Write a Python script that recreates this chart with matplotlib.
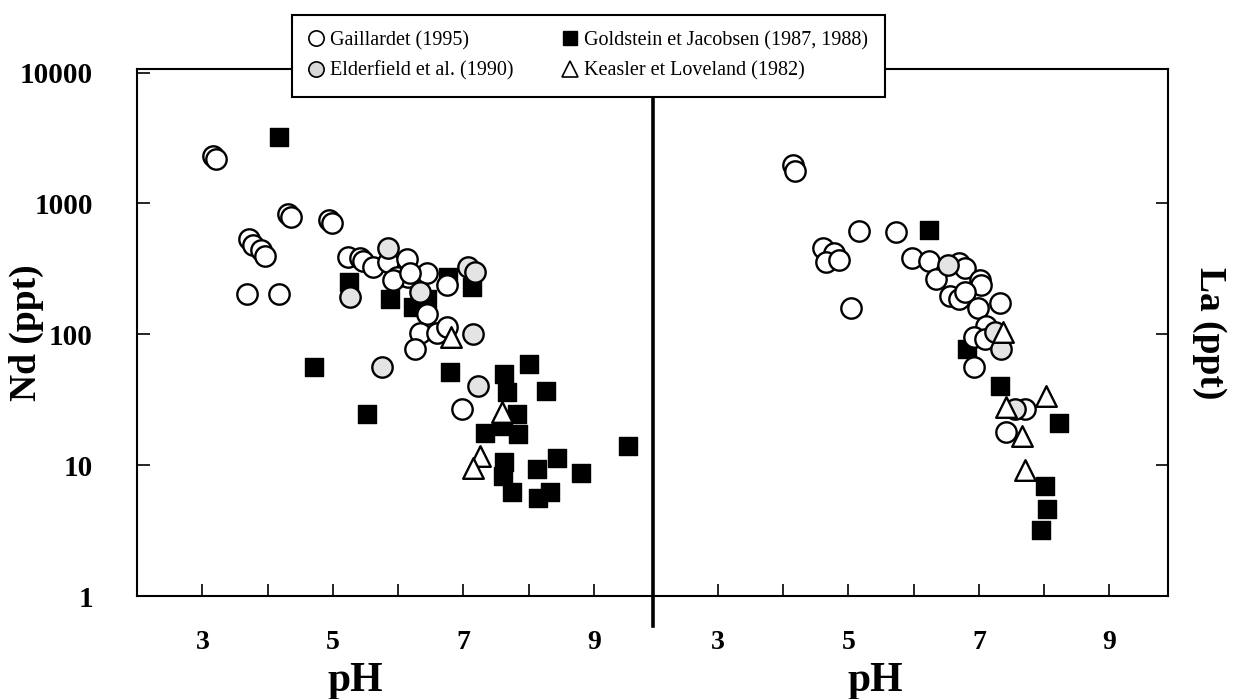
import matplotlib
matplotlib.use("Agg")
import matplotlib.pyplot as plt
from matplotlib.lines import Line2D

plt.rcParams["font.family"] = "serif"
plt.rcParams["font.serif"] = ["Liberation Serif", "DejaVu Serif"]

# ---- Nd panel (left) ----
nd_gail_ph = [3.16, 3.21, 4.31, 4.36, 4.94, 4.99, 3.72, 3.78, 3.90, 3.96, 3.68, 4.17,
              5.23, 5.41, 5.46, 5.61, 5.84, 6.13, 5.98, 6.15, 6.44, 6.75, 6.44, 6.33,
              6.26, 6.59, 6.75, 6.98, 5.92, 6.18]
nd_gail = [2300, 2180, 830, 790, 750, 710, 537, 483, 443, 400, 205, 205,
           392, 385, 363, 329, 359, 378, 276, 276, 296, 240, 142, 103,
           77, 103, 113, 27, 262, 296]
nd_elder_ph = [5.84, 6.33, 7.07, 7.18, 7.15, 5.75, 7.22, 5.26]
nd_elder = [460, 212, 329, 300, 100, 56, 40, 192]
nd_gold_ph = [4.17, 5.25, 5.87, 6.23, 6.44, 6.76, 7.13, 4.71, 5.52, 6.79, 7.62, 8.00,
              7.67, 8.26, 7.82, 7.83, 7.60, 7.33, 9.53, 7.62, 7.60, 8.13, 8.43, 8.81,
              7.74, 8.32, 8.14]
nd_gold = [3200, 253, 185, 163, 185, 276, 232, 56, 24.6, 52, 50, 59,
           36, 37, 24.6, 17.4, 20, 17.7, 14, 10.6, 8.3, 9.4, 11.4, 8.8,
           6.3, 6.3, 5.6]
nd_keas_ph = [6.81, 7.59, 7.25, 7.15]
nd_keas = [95, 25.5, 11.8, 9.6]

# ---- La panel (right) ----
la_gail_ph = [4.15, 4.18, 5.16, 5.73, 4.61, 4.78, 4.66, 4.85, 5.04, 5.97, 6.23, 6.69,
              6.79, 6.34, 7.02, 7.04, 6.56, 6.69, 6.79, 6.99, 7.33, 7.11, 6.92, 7.10,
              6.92, 7.42, 7.71]
la_gail = [1960, 1770, 620, 610, 460, 420, 360, 370, 160, 385, 365, 350,
           322, 265, 262, 240, 195, 185, 212, 160, 175, 115, 95, 92,
           56, 18, 27]
la_elder_ph = [6.53, 7.25, 7.34, 7.56]
la_elder = [340, 104, 77, 27]
la_gold_ph = [6.23, 6.82, 7.33, 8.23, 8.02, 8.05, 7.95]
la_gold = [630, 77, 40, 21, 7.0, 4.6, 3.2]
la_keas_ph = [7.37, 8.03, 7.42, 7.66, 7.71]
la_keas = [105, 34, 28, 16.8, 9.2]

labels = ["Gaillardet (1995)", "Elderfield et al. (1990)",
          "Goldstein et Jacobsen (1987, 1988)", "Keasler et Loveland (1982)"]

fig = plt.figure(figsize=(12.36, 6.99), dpi=100)
ax1 = fig.add_axes([0.111, 0.147, 0.417, 0.754])
ax2 = fig.add_axes([0.528, 0.147, 0.417, 0.754])

def draw(ax, gph, g, eph, e, sph, s, tph, t):
    ax.scatter(sph, s, marker="s", s=150, c="black", edgecolors="black", zorder=2)
    ax.scatter(gph, g, marker="o", s=215, facecolors="white", edgecolors="black",
               linewidths=1.7, zorder=3)
    ax.scatter(eph, e, marker="o", s=215, facecolors="#e4e4e4", edgecolors="black",
               linewidths=1.7, zorder=3)
    ax.scatter(tph, t, marker="^", s=220, facecolors="white", edgecolors="black",
               linewidths=1.7, zorder=4)
    ax.set_yscale("log")
    ax.set_xlim(2.0, 9.9)
    ax.set_ylim(1, 10600)
    ax.set_xticks(range(3, 10))
    ax.set_xticklabels(["3", "", "5", "", "7", "", "9"])
    ax.minorticks_off()
    ax.tick_params(axis="x", direction="in", length=9, width=1.2, pad=24,
                   labelsize=20)
    for lab in ax.get_xticklabels():
        lab.set_fontweight("bold")
    for sp in ax.spines.values():
        sp.set_linewidth(1.5)

draw(ax1, nd_gail_ph, nd_gail, nd_elder_ph, nd_elder, nd_gold_ph, nd_gold, nd_keas_ph, nd_keas)
draw(ax2, la_gail_ph, la_gail, la_elder_ph, la_elder, la_gold_ph, la_gold, la_keas_ph, la_keas)

ax1.set_yticks([1, 10, 100, 1000, 10000])
ax1.set_yticklabels(["1", "10", "100", "1000", "10000"])
ax1.tick_params(axis="y", direction="in", length=9, width=1.2, pad=32, labelsize=21)
for lab in ax1.get_yticklabels():
    lab.set_fontweight("bold")
ax1.spines["right"].set_visible(False)

ax2.yaxis.tick_right()
ax2.set_yticks([10, 100, 1000])
ax2.set_yticklabels([])
ax2.tick_params(axis="y", direction="in", length=9, width=1.2)
ax2.spines["left"].set_visible(False)

# divider between the two panels
fig.add_artist(Line2D([0.528, 0.528], [0.105, 0.901], color="black", lw=2.6,
                      transform=fig.transFigure, zorder=2))

ax1.text(-0.215, 0.5, "Nd (ppt)", transform=ax1.transAxes, rotation=90,
         ha="center", va="center", fontsize=27, fontweight="bold")
ax2.text(1.08, 0.5, "La (ppt)", transform=ax2.transAxes, rotation=-90,
         ha="center", va="center", fontsize=27, fontweight="bold")
ax1.text(0.423, -0.16, "pH", transform=ax1.transAxes, ha="center", va="center",
         fontsize=30, fontweight="bold")
ax2.text(0.432, -0.16, "pH", transform=ax2.transAxes, ha="center", va="center",
         fontsize=30, fontweight="bold")

handles = [
    Line2D([], [], ls="none", marker="o", ms=11, mfc="white", mec="black", mew=1.2),
    Line2D([], [], ls="none", marker="o", ms=11, mfc="#d8d8d8", mec="black", mew=1.2),
    Line2D([], [], ls="none", marker="s", ms=10, mfc="black", mec="black"),
    Line2D([], [], ls="none", marker="^", ms=11, mfc="white", mec="black", mew=1.2),
]
leg = fig.legend(handles, labels, ncol=2, loc="center", bbox_to_anchor=(0.476, 0.92),
                 fontsize=14.5, frameon=True, fancybox=False, framealpha=1,
                 handlelength=0.8, handletextpad=0.3, columnspacing=2.4,
                 borderpad=0.8, labelspacing=0.55)
leg.get_frame().set_edgecolor("black")
leg.get_frame().set_linewidth(1.5)
leg.set_zorder(10)

fig.savefig("out.png", dpi=100)
